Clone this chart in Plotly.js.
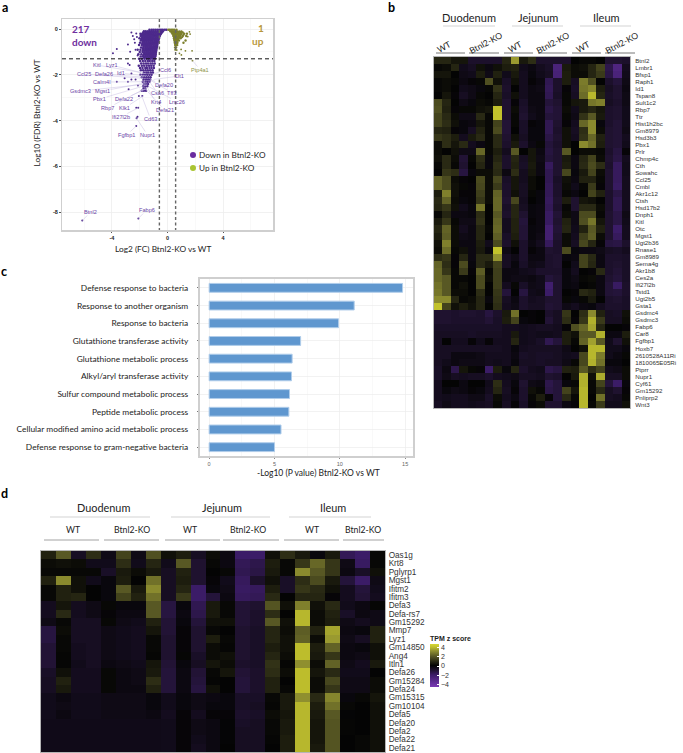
<!DOCTYPE html>
<html><head><meta charset="utf-8">
<script src="https://cdn.plot.ly/plotly-3.0.1.min.js"></script>
<style>html,body{margin:0;padding:0;background:#fff}#c{width:683px;height:753px}</style></head>
<body><div id="c"></div>
<script>
// ---------- panel a : volcano ----------
const downBands = [
[-.03,[-.08,-.2,-.34,-.47,-.6,-.74,-.88,-1.02,-1.15,-1.3]],
[-.1,[-.33,-.46,-.6,-.72,-.86,-1,-1.13,-1.27,-1.41,-1.56,-1.7]],
[-.15,[-.4,-.53,-.66,-.8,-.93,-1.06,-1.2,-1.33,-1.47,-1.6,-1.75]],
[-.2,[-.47,-.6,-.73,-.86,-1,-1.13,-1.26,-1.4,-1.54,-1.68,-1.82,-1.95]],
[-.25,[-.52,-.65,-.78,-.92,-1.05,-1.18,-1.32,-1.45,-1.6,-1.73,-1.87]],
[-.3,[-.56,-.7,-.83,-.97,-1.1,-1.24,-1.38,-1.52,-1.66,-1.8,-1.93]],
[-.35,[-.6,-.72,-.85,-.99,-1.12,-1.26,-1.4,-1.54,-1.68,-1.82]],
[-.4,[-.62,-.75,-.88,-1.02,-1.16,-1.3,-1.44,-1.58,-1.72,-1.86,-2.02]],
[-.45,[-.65,-.78,-.91,-1.05,-1.18,-1.32,-1.46,-1.6,-1.74,-1.88]],
[-.5,[-.66,-.8,-.93,-1.07,-1.2,-1.34,-1.48,-1.62,-1.76,-1.92]],
[-.55,[-.69,-.82,-.95,-1.09,-1.22,-1.36,-1.5,-1.64,-1.78]],
[-.6,[-.7,-.83,-.97,-1.1,-1.25,-1.38,-1.52,-1.66,-1.8,-1.98]],
[-.65,[-.73,-.86,-.99,-1.12,-1.26,-1.4,-1.54,-1.68,-1.82]],
[-.7,[-.74,-.87,-1,-1.14,-1.27,-1.41,-1.55,-1.7,-1.85,-2.05]],
[-.75,[-.76,-.89,-1.02,-1.16,-1.29,-1.43,-1.57,-1.72]],
[-.8,[-.77,-.9,-1.03,-1.17,-1.3,-1.44,-1.58,-1.73,-1.9]],
[-.85,[-.8,-.92,-1.05,-1.19,-1.32,-1.46,-1.6,-1.76]],
[-.9,[-.8,-.93,-1.07,-1.2,-1.33,-1.47,-1.6,-1.75,-1.95,-2.15]],
[-.95,[-.82,-.95,-1.08,-1.22,-1.35,-1.49,-1.63,-1.78]],
[-1,[-.83,-.96,-1.1,-1.23,-1.37,-1.5,-1.65,-1.8,-2]],
[-1.05,[-.85,-.98,-1.12,-1.25,-1.39,-1.53,-1.68]],
[-1.1,[-.85,-1,-1.13,-1.27,-1.4,-1.55,-1.7,-1.88,-2.1]],
[-1.15,[-.87,-1.02,-1.15,-1.29,-1.43,-1.58,-1.74]],
[-1.2,[-.88,-1.03,-1.17,-1.3,-1.45,-1.6,-1.76,-1.93]],
[-1.25,[-.92,-1.06,-1.2,-1.36,-1.52,-1.68]],
[-1.3,[-.9,-1.05,-1.2,-1.35,-1.5,-1.66,-1.85,-2.05]],
[-1.4,[-.95,-1.1,-1.28,-1.42,-1.6,-1.78,-1.97]],
[-1.5,[-.92,-1.08,-1.22,-1.4,-1.55,-1.72,-1.9]],
[-1.6,[-1,-1.17,-1.33,-1.5,-1.68,-1.85,-2.07]],
[-1.7,[-.98,-1.15,-1.3,-1.48,-1.6,-1.8,-1.98]],
[-1.8,[-1.08,-1.25,-1.42,-1.58,-1.75,-1.92]],
[-1.9,[-1.05,-1.2,-1.38,-1.52,-1.7]],
[-2,[-1.15,-1.3,-1.46,-1.62,-1.78,-1.95]],
[-2.1,[-1.22,-1.37,-1.52,-1.68,-1.85]],
[-2.2,[-1.25,-1.4,-1.55,-1.72]],
[-2.3,[-1.3,-1.45,-1.6,-1.78]],
[-2.4,[-1.4,-1.55,-1.7]],
[-2.5,[-1.45,-1.6,-1.75]],
[-2.6,[-1.6,-1.72]],
[-2.7,[-1.55,-1.7,-1.85]]
];
const downSparseX = [-2.6,-2.25,-2.4,-2.85,-3.65,-3.93,-2.69,-2.85,-2.2,-2.35,-2.5,-2.3,-2.15,-2.73,-2.6,-3.09,-3.65,-2.85,-2.6,-2.3,-2.8,-2.13,-2.06,-1.82,-2.25,-2.11,-2.16,-2.23,-2.25,-6.14,-2.1];
const downSparseY = [-.15,-.19,-.45,-.67,-.87,-1.06,-.99,-1.5,-.35,-.6,-.3,-.9,-1.15,-1.57,-1.94,-2.15,-2.3,-2.3,-2.2,-2.2,-2.63,-2.47,-2.93,-2.93,-3.44,-3.44,-3.83,-3.9,-4.24,-8.37,-8.28];
const upBands = [
[-.03,[.06,.17,.28,.39,.5,.65]],
[-.1,[.2,.32,.44,.56,.7,.85,1]],
[-.15,[.3,.42,.54,.66,.8,.95,1.1]],
[-.2,[.35,.47,.59,.72,.85,.98,1.2,1.4]],
[-.25,[.42,.54,.68,.82,.96,1.15]],
[-.3,[.42,.52,.64,.78,.9,1.1,1.35]],
[-.35,[.47,.58,.72,.86,1.05]],
[-.4,[.47,.57,.68,.8,.95]],
[-.45,[.5,.62,.75]],
[-.5,[.5,.6,.7,.82,1.3]],
[-.55,[.54,.66]],
[-.6,[.52,.62,.72,1.15]],
[-.65,[.56,.66]],
[-.7,[.55,.63,.7]],
[-.8,[.55,.62]],
[-.9,[.57]]
];
const upSparseX = [1.58,1.63,1.46,.98,1.29,1.77,.67,1,.86,1.8];
const upSparseY = [-.12,-.22,-.33,-.89,-.95,-.95,-.92,-1.13,-1.06,-1.38];
const geneLabels = ['Kitl','Lyz1','Ccl25','Defa26','Id1','Calm4l','Gsdmc3','Mgst1','Pbx1','Defa22','Rbp7','Klk1','Ifi27l2b','Fgfbp1','Nupr1','Ccl6','Clt1','Defa20','Csa6','Tff3','Lrrc26','Krt4','Defa21','Cd63','Btnl2','Fabp6','Ptp4a1'];
const genePointX = [-1.9,-1.6,-1.8,-1.75,-1.55,-1.6,-1.45,-1.55,-1.5,-1.5,-1.6,-1.7,-2.1,-2.25,-2.23,-.95,-1,-1.25,-1.3,-1.2,-1.4,-1.45,-1.55,-1.85,-6.14,-2.1,1.8];
const genePointY = [-1.9,-1.95,-2.15,-2.1,-2.05,-2.3,-2.4,-2.35,-2.45,-2.6,-2.6,-2.9,-3.44,-4.24,-3.9,-1.95,-2.2,-2.2,-2.3,-2.25,-2.5,-2.55,-2.65,-2.93,-8.37,-8.28,-1.38];
const geneLabelPx = [[97,65],[112,65],[84,74],[104,74],[121,73],[102,82],[81,91],[103,91],[100,99],[124,99],[108,108],[125,108],[121,117],[127,135],[148,135],[166,70],[180,76],[164,85],[158,93],[173,93],[178,102],[156,102],[165,110],[151,119],[91,212],[147,210],[201,70]];

// ---------- panel b : heat map ----------
const genesB = ['Btnl2','Lmbr1','Bfsp1','Raph1','Id1','Tspan8','Sult1c2','Rbp7','Ttr','Hist1h2bc','Gm8979','Hsd3b3','Pbx1','Prlr','Chmp4c','Cth','Sowahc','Ccl25','Cmbl','Akr1c12','Ctsh','Hsd17b2','Dnph1','Kitl','Otc','Mgst1','Ugt2b36','Rnase1','Gm8989','Sema4g','Akr1b8','Ces2a','Ifi27l2b','Tstd1','Ugt2b5','Gsta1','Gsdmc4','Gsdmc3','Fabp6','Car8','Fgfbp1','Hoxb7','2610528A11Ri','1810065E05Ri','Ptprr','Nupr1','Cyf61','Gm15292','Pnliprp2','Wnt3'];
const zB = [
[.8,.8,.4,.4,-.9,-.9,-.9,-.9,.8,3.3,.5,1,-.9,-.9,-.9,-.9,0,.1,.1,0,-1,-1,-.9],
[.1,.2,.8,-.5,-.7,.3,-.3,.3,.6,.7,-.5,-.3,-.6,-.8,-2.6,.5,.2,.3,.8,1.5,-1.5,-2.8,-.6],
[.4,.4,0,-.4,-.5,.6,-.4,.7,-.5,.5,-.6,-.2,-.5,-.7,-2.5,.6,.2,.2,.8,1.3,-1.4,-2.6,-.5],
[.1,.2,.1,-.3,-.1,.1,1.8,.3,-.8,.3,-.6,-.1,-.3,-1.6,-.9,.6,-.7,2.7,1.8,0,-.9,-1.2,-.4],
[.1,.2,0,-.5,-.4,-.2,.1,1.1,-.9,0,-.6,-.3,-.4,-1.7,-.9,-.1,-.8,2.6,2.9,.6,-.7,-1,-.3],
[0,.4,-.1,-.7,-.4,.1,0,.8,-.8,.3,-.6,-.3,-.3,-1.6,-.8,.1,-.7,2.4,3.8,.8,-.8,-1,-.4],
[1.7,.8,0,-.4,-.2,.2,.1,.6,-1,-.1,-.8,-.3,-.3,-1.2,-1,.1,.4,.5,2.6,2.8,-.7,-.9,-.4],
[1.8,.7,-.1,.1,.1,.3,.4,4,-1,.2,-.9,-.4,-.3,-1.4,-1.1,.2,-.5,.5,.8,.4,-.9,-1,-.5],
[1.5,.9,.2,-.4,-.4,.9,.1,4,-1,.1,-1,-.5,-.3,-1.2,-1.1,.1,-.4,1.1,2,.5,-.9,-1,-.5],
[1.5,1,.3,-.2,-.3,.4,.1,1.5,-1.1,.1,-.8,-.1,-.2,-1.6,-1,-.1,-.6,2.3,3,-.2,-.9,-1.1,-.5],
[.8,.7,-.1,-.2,-.7,.7,.1,1.7,-1.1,0,-.8,-.2,-.2,-1.6,-.9,.3,-.7,1,3,.2,-1,-1.1,-.4],
[1.2,1,.6,-.6,.5,.9,.1,.9,-1,.3,-.7,-.2,-.2,-1.4,-1,.3,-.6,1.1,2.3,.7,-1,-1.1,-.6],
[.2,1,.4,.9,-.6,-.3,.1,.9,-.9,.5,-.9,-.3,.1,-1.2,-.9,.3,0,3,2.5,.6,-1,-1.1,-.5],
[.2,0,.3,-.4,-.4,2.3,.1,.6,-.6,2,0,.4,-.3,-1.3,-1,2,0,.2,.2,.1,-.9,-1.3,-.1],
[.3,.9,.2,-1.1,.1,1,-.2,.8,-.9,.8,-.7,.4,-.4,-1.2,-1,.5,-.3,.8,1.5,.2,-1,-1.4,-.6],
[.1,.9,.1,-1,0,.8,-.2,1,-.9,.7,-.8,.5,-.3,-1.8,-1,.6,-.3,.9,1.7,1,-.9,-1.8,-.5],
[0,1.2,1,-1.3,-.2,.2,.2,.9,-.3,1,-.6,.4,-.3,-1.6,-1,1.6,-.2,.5,1.5,.2,-1,-1.8,-.5],
[2.2,1.7,.2,-.1,0,1.7,.2,1.6,-.8,.4,-.6,.2,0,-1.6,-.8,.3,-.3,.7,.7,.1,-1,-1.8,-.6],
[2.2,1.7,.3,.1,-.1,1.6,.2,1.3,-.9,.4,-.7,.2,0,-1.7,-.9,.2,-.5,.1,1.3,-.1,-1,-1.9,-.6],
[.6,2.8,.3,-.1,-.1,1.4,.2,2.2,-.9,.3,-.7,.1,-.2,-1.7,-.9,.1,-.3,0,1.5,.7,-.9,-1.4,-.6],
[.9,2.2,.2,-.2,-.1,1.2,.2,2.3,-1,1.6,-.6,0,-.2,-1.8,-1,.6,-1,.4,.3,0,-.9,-1.6,-.6],
[.8,1.2,.3,-.5,-.2,2.6,0,2.3,-.8,.8,-.7,-.2,-.3,-1.7,-.9,.1,-1,.9,.9,.2,-.9,-1.6,-.6],
[.1,.8,-.3,-.3,-.2,1,0,2,-.9,.8,-1,-.2,-.3,-1.9,-1.1,.2,-.4,1.7,1.7,.1,-1,-1.4,-.4],
[.5,1.2,.1,-.4,-.4,1.1,0,2.2,-.6,.7,-1.2,-.1,-.3,-1.9,-1,.7,-.4,1.8,2.6,.4,-1,-1.4,-.5],
[.8,2.2,.2,-.6,-.3,.8,.1,2.3,-.6,.7,-1.1,-.2,-.3,-2.3,-1.1,.8,-.5,.7,2,.7,-1,-2,-.6],
[.6,2.1,.2,-.4,-.3,.8,0,2.1,-.8,.6,-1.1,-.2,-.4,-2.3,-1,.2,-.6,1.4,2.1,.2,-1,-1.8,-.6],
[.3,2.8,.2,-.3,-.3,.6,-.5,1.7,-.9,.3,-.9,-.3,-.6,-1.8,-.9,.2,-.7,1.6,.8,-.1,-1.3,-1.4,-.9],
[.2,2.4,.1,.3,-.3,.5,-.2,4,-.4,0,-.9,-.1,-.3,-1,-.9,1.7,-.2,-.3,-.3,-.4,-.7,-.8,-.6],
[1,1.2,-.1,.8,-.3,.9,.9,3.2,-.7,-.4,-.9,-.3,-.3,-.9,-1,-.2,-.3,1.5,.9,-.3,-.9,-.9,-.8],
[2.2,1,-.1,1.7,-.2,.9,.5,1.5,-.7,-.2,-.8,-.4,-.5,-.9,-1,0,-.5,1.5,.8,-.3,-.9,-1,-.8],
[2.3,1.2,.1,1.3,-.1,2.1,.1,1.4,-.3,-.3,-.5,-.6,-.9,-.9,-.9,-.2,-.6,0,-.1,.9,-.9,-1.1,-.8],
[2.3,2,.1,.1,0,1.7,.2,1.4,-.3,-.4,-.4,-.3,-.5,-1.2,-1,-.2,-.4,.1,.2,-.3,-1,-1.2,-.8],
[2.5,2,.1,.3,0,1.7,0,1.4,-.6,.1,-.8,-.4,-.5,-2.2,-1,-.2,-.3,0,.1,-.3,-1.1,-1.9,-.9],
[2.6,2,.2,.2,0,1,0,1.2,-1.2,0,-1.3,-.5,-.4,-2,-1,0,-.1,.9,.7,-.3,-1.1,-1.2,-.9],
[3,3,.8,.1,.2,.8,-.2,1.1,-.7,-.3,-.9,-.6,-.7,-1,-1,.1,-.2,.1,.5,0,-.9,-1,-.8],
[4,1.5,.3,.6,.3,.8,0,1,-.6,-.4,-.9,-.7,-.7,-1.1,-1,-.4,-.6,-.3,-.2,-.6,-.9,-.9,-.8],
[-1,-1,-.9,-1,-1,-.9,-1.3,-.9,.5,2.5,0,-.1,0,-.9,-.7,1.2,0,1,3,.7,-.7,-.8,.3],
[-1,-1,-.9,-.9,-.9,-.9,-1.1,-.8,.6,1.5,-.2,-.1,0,-1.1,-.7,1,-.1,1.2,3.7,1.3,-.7,-.7,.2],
[-.8,-.8,-.8,-.8,-.8,-.8,-.8,-.8,-.6,-.6,-.5,-.6,-.7,-.7,-.6,-.1,1.8,2.3,3.5,.8,0,0,-.1],
[-.7,-.7,-.7,-.7,-.8,-.7,-.7,-.7,-.6,.5,-.5,-.6,-.5,-.5,-.6,.6,.3,2,2,3.7,-.3,-.3,.6],
[-.7,0,-.6,-.6,-.1,-.5,-.1,-.6,-.6,.8,-.5,-.6,-.8,-1.6,-1.2,.6,.1,2.2,3.4,2,-.5,-1,.3],
[-.7,-.7,-.7,-.7,-.7,-.7,-.7,-.7,-.6,-.2,-.6,-.7,-.7,-.7,-.7,-.4,0,.3,3.8,3.8,-.5,-.5,-.2],
[-.7,-.7,-.3,-.3,-.3,-.4,-.6,-.6,-.6,-.3,-.8,-.7,-.8,-.8,-.7,-.5,-.6,1.6,3.8,2.7,-.5,-.3,.1],
[-.7,-.5,-.3,-.4,-.4,-.4,-.6,-.5,-.6,-.2,-.7,-.7,-.8,-.7,-.7,-.4,.1,1.6,3.7,2.5,-.2,-.2,0],
[-.8,-.3,-1.5,.4,.1,-.1,-2,.6,-.2,.8,-.9,-.6,-.5,-1.5,-1.3,.7,.6,2,1,1.5,-.5,-.4,.2],
[-.8,-.4,-.7,-.6,-.7,-.7,-.9,-.6,-.5,-.4,-.7,-.7,-.6,-1,-.9,0,.5,3.7,.3,3.6,-.7,-.7,.2],
[-.6,0,0,-.3,0,0,-.5,1,-.6,-.2,-1,-.4,-.3,-1.5,-1.2,-.2,.1,3.7,.1,1.5,-1.2,-2,-.2],
[-.6,-.2,-.4,-.3,-.1,-.2,-.6,.8,-.7,-.1,-.9,.3,.1,-1.4,-1.2,1.5,.4,3.8,.1,.9,-.7,-1,-.1],
[-.6,-.5,-.6,-.6,-.4,-.4,-.8,.2,-.6,-.3,-.9,.1,.6,-.1,-1.2,.9,.1,3.8,0,2.5,-.7,-.6,.1],
[-.7,-.4,-.6,-.6,-.5,-.6,-.7,.1,-.7,-.1,-.8,-.1,.2,-1,-1,-.3,-.1,3.8,.1,1.3,-.5,-.5,.3]
];

// ---------- panel c : GO terms ----------
const terms = ['Defense response to bacteria','Response to another organism','Response to bacteria','Glutathione transferase activity','Glutathione metabolic process','Alkyl/aryl transferase activity','Sulfur compound metabolic process','Peptide metabolic process','Cellular modified amino acid metabolic process','Defense response to gram-negative bacteria'];
const termValues = [14.8,11.1,9.9,7,6.35,6.3,6.15,6.1,5.5,5];

// ---------- panel d : heat map ----------
const genesD = ['Oas1g','Krt8','Pglyrp1','Mgst1','Ifitm2','Ifitm3','Defa3','Defa-rs7','Gm15292','Mmp7','Lyz1','Gm14850','Ang4','Itln1','Defa26','Gm15284','Defa24','Gm15315','Gm10104','Defa5','Defa20','Defa2','Defa22','Defa21'];
const zD = [
[.7,2,-.7,1,-.4,1.5,-.4,1.8,.3,.6,-.7,.2,-.3,-2,-2,.3,1,.5,-.2,.5,-1.7,-2,.1],
[.2,.3,.2,-.5,-.5,1,-.5,.8,-.5,2,-1,.1,-.3,-1.7,-1.5,.6,.1,1.2,2.3,1.2,-.4,-1.9,.1],
[.1,.1,.1,.1,-.8,.5,.2,.5,-.7,.7,-1,0,.1,-1.6,-1.4,.5,.1,3,2,1.2,-.3,-.8,.3],
[.7,3,.3,-.5,-.2,.6,0,2.5,-.7,.6,-1,-.1,-.5,-1.8,-.9,.3,-.8,1,1.7,.5,-1.2,-2,-.4],
[.1,.7,.3,0,-.2,2,.5,3,-.7,.8,-2,-.2,-.4,-1.9,-1.8,.6,-.8,1.2,.9,.3,-.6,-1.2,-.5],
[.1,.7,.8,0,-.2,1.5,.7,2.5,-.7,1.3,-2,-1.2,-.3,-1.8,-1.7,.9,0,.8,.8,-.1,-.6,-1.1,-.6],
[-.6,.4,-.6,-.4,.1,-.2,-.2,2,-1.3,-.2,-1.6,.5,.1,-1.1,-1,1.9,.3,2.8,.3,.9,-.5,-.3,.05],
[-.6,.9,-.6,-.4,-.1,-.3,-.3,2,-1.3,-.3,-1.5,.5,.1,-1.1,-.9,1,0,3.8,.2,.7,-.8,-.3,-.4],
[-.4,.1,-.7,-.7,.1,-.4,-.5,.7,-1.1,-.2,-1.2,.3,.3,-1.1,-.9,2,.3,3.8,.2,.6,-.4,-.6,-.4],
[-1.3,.2,-.7,-.7,-.4,-.5,-.6,.4,-1.1,-.1,-1,.1,0,-1,-.8,.8,.2,2.1,.7,3.5,-.3,-.2,.7],
[-1.3,.1,-.7,-.7,-.4,-.5,-.6,.1,-1,-.1,-1,.6,.1,-1,-.8,.8,.3,2.2,.2,3.3,-.4,-.7,.7],
[-1.1,.1,-.6,-.7,-.4,-.5,-.6,.1,-1,-.1,-1,.2,.05,-1,-.8,.6,.3,3.9,.6,2.2,-.3,-.2,.3],
[-1.1,.05,-.6,-.7,-.4,-.5,-.6,.05,-1,.05,-.8,.2,.3,-1,-.8,.8,.2,3.9,.5,1.2,-.3,-.4,.3],
[-1.1,.05,-.5,-.7,-.3,-.4,-.5,.4,-1.1,-.2,-.7,.4,.2,-.9,-.8,1.1,.05,3.1,.2,2.2,-.4,-.6,.5],
[-.8,.3,-.6,-.6,.1,-.3,-.4,.5,-1.2,-.3,-1.1,.1,.4,-1.1,-.9,1,.2,3.9,.4,.9,-.5,-.5,0],
[-.7,.7,-.6,-.6,.1,-.3,-.4,1,-1.2,-.3,-1.2,.05,0,-1.2,-.9,.7,0,3.9,.2,1.6,-.4,-.4,.2],
[-.7,.5,-.6,-.6,.1,-.3,-.3,.7,-1.2,-.3,-1.3,.3,0,-1.2,-.9,.7,.1,3.9,.2,1.2,-.4,-.4,.2],
[-.5,-.3,-.5,-.5,-.4,-.4,-.4,-.2,-.5,-.2,-.4,-.3,-.2,-.8,-.8,.1,.5,3.1,.9,2.9,-.2,.1,.4],
[-.5,-.4,-.5,-.5,-.4,-.4,-.4,-.2,-.5,-.2,-.4,-.2,-.2,-.8,-.7,.05,.5,3.8,.6,2.5,.1,0,.3],
[-.5,-.3,-.5,-.5,-.4,-.4,-.4,-.3,-.6,-.1,-.6,-.1,-.1,-.9,-.8,.2,.4,3.8,.5,2,-.05,0,.3],
[-.45,-.45,-.45,-.45,-.45,-.45,-.45,-.45,-.5,-.1,-.4,-.3,-.05,-.8,-.7,.1,.5,3.8,.4,1.9,.05,0,.3],
[-.45,-.45,-.45,-.45,-.45,-.45,-.45,-.45,-.5,-.1,-.4,-.3,-.05,-.7,-.7,.1,.5,3.8,.4,1.9,.05,0,.3],
[-.45,-.45,-.45,-.45,-.45,-.45,-.45,-.45,-.5,-.1,-.5,-.3,-.05,-.7,-.7,.05,.6,3.8,.4,1.9,0,.1,.3],
[-.45,-.45,-.45,-.45,-.45,-.45,-.45,-.45,-.5,-.1,-.6,-.3,0,-.7,-.7,0,.6,3.8,.5,1.9,0,.1,.3]
];

// ---------- shared styling ----------
const heatScale = [[0,'#7a3ab5'],[.28,'#3c1c68'],[.39,'#1f1230'],[.5,'#040404'],[.6,'#2a2a14'],[.72,'#595924'],[.85,'#959530'],[.93,'#c0c02c'],[1,'#d6d632']];
const W = 683, H = 753;
const fx = p => p / W, fy = p => 1 - p / H;
const flat = bands => { const x = [], y = []; bands.forEach(b => b[1].forEach(v => { x.push(v); y.push(b[0]); })); return [x, y]; };
const [dx, dy] = flat(downBands), [ux, uy] = flat(upBands);
const LATO = 'Lato, "Open Sans", sans-serif', ARIAL = '"Liberation Sans", Arial, sans-serif';
const ptA = {x0:168, sx:13.9, y0:29, sy:22.9};

const traces = [
 {type:'scatter', mode:'markers', x:dx, y:dy, xaxis:'x', yaxis:'y', marker:{size:2.5, color:'#4d2a8c'}, hoverinfo:'skip'},
 {type:'scatter', mode:'markers', x:downSparseX, y:downSparseY, xaxis:'x', yaxis:'y', marker:{size:2, color:'#4d2a8c'}, hoverinfo:'skip'},
 {type:'scatter', mode:'markers', x:ux, y:uy, xaxis:'x', yaxis:'y', marker:{size:2.4, color:'#7c7f2c'}, hoverinfo:'skip'},
 {type:'scatter', mode:'markers', x:upSparseX, y:upSparseY, xaxis:'x', yaxis:'y', marker:{size:1.8, color:'#7c7f2c'}, hoverinfo:'skip'},
 {type:'heatmap', z:zB, y:genesB, xaxis:'x2', yaxis:'y2', colorscale:heatScale, zmin:-4.6, zmax:4.6, showscale:false, hoverinfo:'skip'},
 {type:'bar', orientation:'h', x:termValues, y:terms, xaxis:'x3', yaxis:'y3', width:.5, marker:{color:'#5f97cf', line:{color:'#b0cdea', width:1}}, hoverinfo:'skip'},
 {type:'heatmap', z:zD, y:genesD, xaxis:'x4', yaxis:'y4', colorscale:heatScale, zmin:-4.6, zmax:4.6, hoverinfo:'skip',
  colorbar:{x:fx(430), xanchor:'left', y:fy(660), yanchor:'middle', lenmode:'pixels', len:55, thicknessmode:'pixels', thickness:9, xpad:0, ypad:0, outlinewidth:0, tickvals:[-4,-2,0,2,4], ticks:'inside', ticklen:2, tickcolor:'#fff', tickfont:{family:ARIAL, size:7, color:'#333'},
   title:{text:'<b>TPM z score</b>', side:'top', font:{family:ARIAL, size:7, color:'#222'}}}}
];

const ann = [];
const txt = (t, x, y, size, color, extra) => ann.push(Object.assign({text:t, xref:'paper', yref:'paper', x:fx(x), y:fy(y), xanchor:'center', yanchor:'middle', showarrow:false, font:{family:LATO, size:size, color:color}}, extra || {}));
// panel letters
txt('<b>a</b>', 5, 8, 12.5, '#000'); txt('<b>b</b>', 391, 8, 12.5, '#000'); txt('<b>c</b>', 4, 271, 12.5, '#000'); txt('<b>d</b>', 4, 493, 12.5, '#000');
// axis titles
txt('Log10 (FDR) Btnl2-KO vs WT', 37, 113.5, 8.3, '#222', {textangle:-90});
txt('Log2 (FC) Btnl2-KO vs WT', 163, 249, 8.3, '#222');
txt('-Log10 (P value) Btnl2-KO vs WT', 318, 473, 8.5, '#222');
// panel a text
txt('<b>217</b>', 70, 29, 10, '#7030a0', {xanchor:'left'}); txt('<b>down</b>', 70, 42, 10, '#7030a0', {xanchor:'left'});
txt('<b>1</b>', 261, 28, 10, '#b8963a'); txt('<b>up</b>', 258, 41, 10, '#b8963a');
txt('Down in Btnl2-KO', 197, 155, 8.2, '#222', {xanchor:'left'}); txt('Up in Btnl2-KO', 197, 168, 8.2, '#222', {xanchor:'left'});
geneLabels.forEach((g, i) => ann.push({text:g, x:genePointX[i], y:genePointY[i], xref:'x', yref:'y', axref:'x', ayref:'y',
  ax:(geneLabelPx[i][0]-ptA.x0)/ptA.sx, ay:(ptA.y0-geneLabelPx[i][1])/ptA.sy, showarrow:true, arrowhead:0, arrowwidth:.5, arrowcolor:'#c9bfe2', borderpad:0, standoff:0,
  font:{family:ARIAL, size:5.6, color: g==='Ptp4a1' ? '#8f9448' : '#6a3fa6'}}));
// panel b headers
[['Duodenum',469,18],['Jejunum',538,18],['Ileum',606,18]].forEach(h => txt(h[0], h[1], h[2], 11, '#222'));
[['WT',444,47],['Btnl2-KO',486,43],['WT',515,47],['Btnl2-KO',553,43],['WT',583,47],['Btnl2-KO',622,43]].forEach(h => txt(h[0], h[1], h[2], 8.6, '#222', {textangle:-28}));
// panel d headers
[['Duodenum',103,508],['Jejunum',222,508],['Ileum',333,508]].forEach(h => txt(h[0], h[1], h[2], 10.9, '#222'));
[['WT',73,529],['Btnl2-KO',132,529],['WT',190,529],['Btnl2-KO',248,529],['WT',312,529],['Btnl2-KO',363,529]].forEach(h => txt(h[0], h[1], h[2], 8.7, '#222'));

const seg = (x0, x1, y, c, w) => ({type:'line', xref:'paper', yref:'paper', x0:fx(x0), x1:fx(x1), y0:fy(y), y1:fy(y), line:{color:c, width:w}});
const shapes = [
 {type:'line', xref:'x', yref:'y', x0:-7.6, x1:7.6, y0:-1.3, y1:-1.3, line:{color:'#111', width:1, dash:'4px,3px'}},
 {type:'line', xref:'x', yref:'y', x0:-.585, x1:-.585, y0:.44, y1:-8.78, line:{color:'#666', width:1.4, dash:'3px,2.5px'}},
 {type:'line', xref:'x', yref:'y', x0:.585, x1:.585, y0:.44, y1:-8.78, line:{color:'#666', width:1.4, dash:'3px,2.5px'}},
 {type:'circle', xref:'paper', yref:'paper', x0:fx(190), x1:fx(196), y0:fy(158), y1:fy(152), fillcolor:'#6a2ca0', line:{width:0}},
 {type:'circle', xref:'paper', yref:'paper', x0:fx(190), x1:fx(196), y0:fy(171), y1:fy(165), fillcolor:'#a9c432', line:{width:0}},
 seg(443,495,26,'#c8c8c8',.8), seg(512,563,26,'#c8c8c8',.8), seg(580,631,26,'#c8c8c8',.8),
 seg(436,465,53,'#666',.9), seg(469,499,53,'#666',.9), seg(504,533,53,'#666',.9), seg(538,567,53,'#666',.9), seg(572,601,53,'#666',.9), seg(605,635,53,'#666',.9),
 seg(50,150,517,'#c8c8c8',.8), seg(171,270,517,'#c8c8c8',.8), seg(289,371,517,'#c8c8c8',.8),
 seg(44,99,540,'#999',.9), seg(104,159,540,'#999',.9), seg(165,220,540,'#999',.9), seg(223,279,540,'#999',.9), seg(284,339,540,'#999',.9), seg(343,384,540,'#999',.9)
];

const hideX = (l, r, anchor) => ({domain:[fx(l), fx(r)], anchor:anchor, showticklabels:false, ticks:'', showgrid:false, zeroline:false, showline:true, mirror:true, linecolor:'#b5b5b5', linewidth:1, range:[-.5,22.5]});
const heatY = (t, b, anchor, size, standoff) => ({domain:[fy(b), fy(t)], anchor:anchor, side:'right', type:'category', autorange:'reversed', dtick:1, tickmode:'linear', showgrid:false, zeroline:false, ticks:'', showline:true, mirror:true, linecolor:'#b5b5b5', linewidth:1, tickfont:{family:ARIAL, size:size, color:'#333'}, ticklabelstandoff:standoff});

const layout = {
 width:W, height:H, margin:{l:0,r:0,t:0,b:0}, paper_bgcolor:'#fff', plot_bgcolor:'#fff', showlegend:false, font:{family:LATO, color:'#222'}, annotations:ann, shapes:shapes,
 xaxis:{domain:[fx(62), fx(273)], anchor:'y', range:[-7.6,7.6], tickvals:[-4,0,4], ticktext:['<b>-4</b>','<b>0</b>','<b>4</b>'], ticks:'outside', ticklen:1.5, tickcolor:'#555', tickfont:{family:ARIAL, size:5.5, color:'#222'},
   gridcolor:'#eeeeee', gridwidth:.8, minor:{tickvals:[-6,-2,2,6], showgrid:true, gridcolor:'#f5f5f5', gridwidth:.6}, zeroline:false, showline:true, mirror:true, linecolor:'#cfcfcf', linewidth:1.5},
 yaxis:{domain:[fy(230), fy(19)], anchor:'x', range:[-8.78,.44], tickvals:[-8,-6,-4,-2,0], ticktext:['<b>-8</b>','<b>-6</b>','<b>-4</b>','<b>-2</b>','<b>0</b>'], ticks:'outside', ticklen:1.5, tickcolor:'#555', tickfont:{family:ARIAL, size:5.5, color:'#222'},
   gridcolor:'#eeeeee', gridwidth:.8, minor:{tickvals:[-7,-5,-3,-1], showgrid:true, gridcolor:'#f5f5f5', gridwidth:.6}, zeroline:false, showline:true, mirror:true, linecolor:'#cfcfcf', linewidth:1.5},
 xaxis2:hideX(433.5,630,'y2'),
 yaxis2:heatY(57,408,'x2',6.2,3),
 xaxis3:{domain:[fx(200), fx(413)], anchor:'y3', range:[-.7,15.6], tickvals:[0,5,10,15], ticks:'outside', ticklen:1.5, tickcolor:'#888', tickfont:{family:ARIAL, size:5.5, color:'#666'},
   gridcolor:'#ececec', gridwidth:.7, minor:{tickvals:[2.5,7.5,12.5], showgrid:true, gridcolor:'#f4f4f4', gridwidth:.5}, zeroline:false, showline:true, mirror:true, linecolor:'#cfcfcf', linewidth:1.6},
 yaxis3:{domain:[fy(456), fy(279)], anchor:'x3', type:'category', autorange:'reversed', ticks:'outside', ticklen:1.5, tickcolor:'#777', ticklabelstandoff:7, showgrid:true, gridcolor:'#ececec', gridwidth:.7, zeroline:false, showline:true, mirror:true, linecolor:'#cfcfcf', linewidth:1.6, tickfont:{family:LATO, size:8.4, color:'#222'}},
 xaxis4:hideX(41,385,'y4'),
 yaxis4:heatY(551,752,'x4',8.2,1)
};
Plotly.newPlot('c', traces, layout, {displayModeBar:false, staticPlot:true});
</script></body></html>
